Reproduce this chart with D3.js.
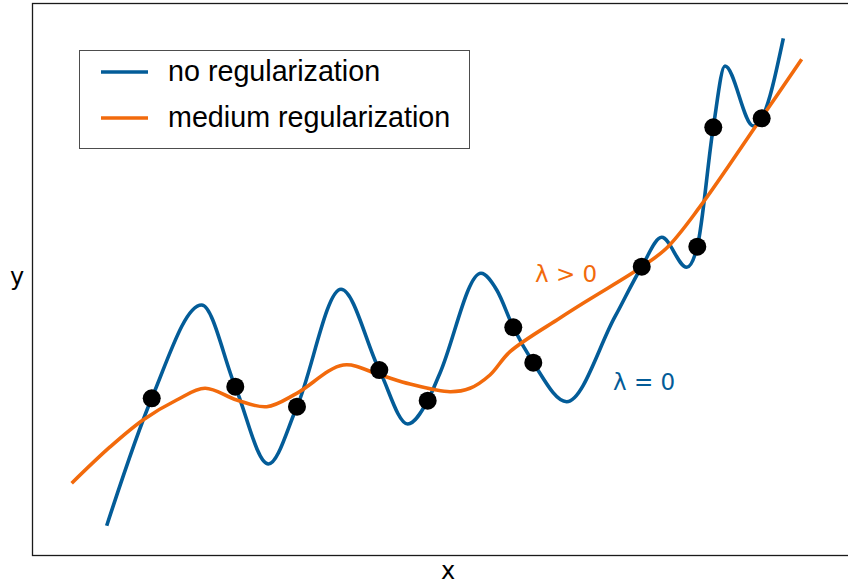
<!DOCTYPE html>
<html>
<head>
<meta charset="utf-8">
<script src="https://cdn.jsdelivr.net/npm/d3@7"></script>
<style>
  html, body { margin: 0; padding: 0; background: #fff; }
  svg { display: block; }
</style>
</head>
<body>
<svg id="chart" width="848" height="585"></svg>
<script>
// Observed training points
const pointX = [14.55, 24.79, 32.35, 42.44, 48.37, 58.86, 61.31, 74.60, 81.41, 83.37, 89.30];
const pointY = [28.39, 30.49, 26.87, 33.51, 27.95, 41.25, 34.84, 52.23, 55.85, 77.48, 79.11];

// Fit without regularization (passes through every point)
const noRegX = [9.03, 14.55, 20.67, 24.79, 28.84, 32.35, 37.75, 42.44, 45.92, 48.37, 49.88, 54.90, 56.83, 58.86, 61.31, 65.40, 71.32, 74.60, 77.05, 80.11, 81.41, 83.37, 84.80, 88.27, 89.30, 91.95];
const noRegY = [5.31, 28.39, 45.29, 30.49, 16.49, 26.87, 48.13, 33.51, 23.73, 27.95, 32.97, 51.03, 48.01, 41.25, 34.84, 27.77, 43.17, 52.23, 57.55, 52.12, 55.85, 77.48, 88.59, 77.72, 79.11, 93.60];

// Fit with medium regularization (smooth trend)
const medRegX = [4.74, 9.44, 13.48, 17.61, 21.08, 24.96, 28.64, 32.32, 38.03, 42.52, 46.20, 51.10, 53.55, 56.00, 58.46, 64.58, 68.26, 74.39, 77.66, 81.74, 89.09, 94.20];
const medRegY = [12.99, 19.57, 24.46, 28.08, 30.20, 28.08, 26.87, 29.29, 34.42, 32.61, 30.98, 29.58, 30.20, 32.61, 36.83, 42.93, 46.38, 51.99, 55.62, 63.10, 78.80, 89.80];

const seriesNames = ["no regularization", "medium regularization"];
const seriesColors = ["#035c98", "#f26a0c"];
const annotations = ["λ = 0", "λ > 0"];

const svg = d3.select("#chart");
const plotLeft = 33, plotTop = 3, plotRight = 849, plotBottom = 555;

const x = d3.scaleLinear().domain([0, 100]).range([plotLeft, plotRight]);
const y = d3.scaleLinear().domain([0, 100]).range([plotBottom, plotTop]);

// Axes frame (right edge runs past the canvas)
svg.append("rect")
  .attr("x", plotLeft - 0.5).attr("y", plotTop + 0.5)
  .attr("width", plotRight - plotLeft + 20).attr("height", plotBottom - plotTop)
  .attr("fill", "none").attr("stroke", "#1a1a1a").attr("stroke-width", 1.3);

const wiggleLine = d3.line()
  .x(d => x(d[0]))
  .y(d => y(d[1]))
  .curve(d3.curveMonotoneX);

const smoothLine = d3.line()
  .x(d => x(d[0]))
  .y(d => y(d[1]))
  .curve(d3.curveCatmullRom.alpha(0.5));

const noReg = d3.zip(noRegX, noRegY);
const medReg = d3.zip(medRegX, medRegY);

svg.append("path")
  .datum(noReg)
  .attr("d", wiggleLine)
  .attr("fill", "none")
  .attr("stroke", seriesColors[0])
  .attr("stroke-width", 3.6);

svg.append("path")
  .datum(medReg)
  .attr("d", smoothLine)
  .attr("fill", "none")
  .attr("stroke", seriesColors[1])
  .attr("stroke-width", 3.6);

svg.append("g")
  .selectAll("circle")
  .data(d3.zip(pointX, pointY))
  .join("circle")
  .attr("cx", d => x(d[0]))
  .attr("cy", d => y(d[1]))
  .attr("r", 9)
  .attr("fill", "#000");

// Curve annotations
svg.append("text")
  .attr("x", 613).attr("y", 390)
  .attr("font-family", "DejaVu Sans")
  .attr("font-size", 23)
  .attr("fill", seriesColors[0])
  .text(annotations[0]);

svg.append("text")
  .attr("x", 535).attr("y", 281.5)
  .attr("font-family", "DejaVu Sans")
  .attr("font-size", 23)
  .attr("fill", seriesColors[1])
  .text(annotations[1]);

// Axis labels
svg.append("text")
  .attr("x", 448).attr("y", 579)
  .attr("text-anchor", "middle")
  .attr("font-family", "DejaVu Sans")
  .attr("font-size", 24)
  .attr("fill", "#000")
  .text("x");

svg.append("text")
  .attr("x", 17).attr("y", 285)
  .attr("text-anchor", "middle")
  .attr("font-family", "DejaVu Sans")
  .attr("font-size", 24)
  .attr("fill", "#000")
  .text("y");

// Legend
const legend = svg.append("g");
legend.append("rect")
  .attr("x", 79.5).attr("y", 50.5)
  .attr("width", 390).attr("height", 98)
  .attr("fill", "#fff")
  .attr("stroke", "#4d4d4d")
  .attr("stroke-width", 1);

seriesNames.forEach((name, i) => {
  const cy = 72 + i * 46;
  legend.append("line")
    .attr("x1", 101).attr("x2", 148)
    .attr("y1", cy).attr("y2", cy)
    .attr("stroke", seriesColors[i])
    .attr("stroke-width", 3.6);
  legend.append("text")
    .attr("x", 168).attr("y", cy + 9)
    .attr("font-family", "Liberation Sans, Arial, sans-serif")
    .attr("font-size", 28.7)
    .attr("fill", "#000")
    .text(name);
});
</script>
</body>
</html>
